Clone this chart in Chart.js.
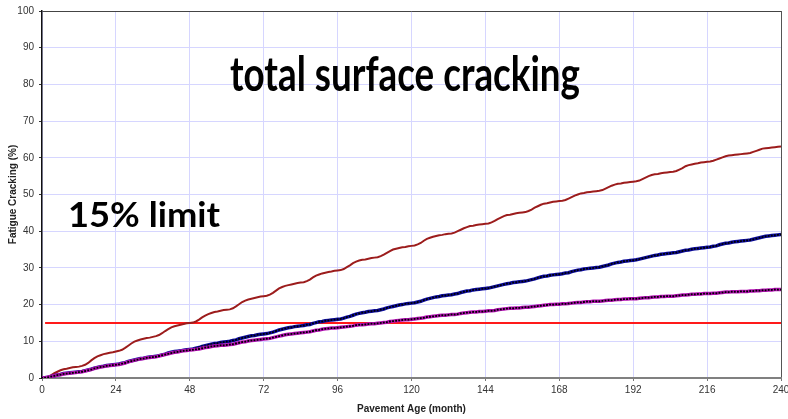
<!DOCTYPE html>
<html>
<head>
<meta charset="utf-8">
<script src="https://cdn.jsdelivr.net/npm/chart.js@4.4.1/dist/chart.umd.min.js"></script>
<style>
  html, body { margin: 0; padding: 0; background: #ffffff; }
  #wrap { width: 788px; height: 419px; position: relative; }
</style>
</head>
<body>
<div id="wrap"><canvas id="chart" width="788" height="419"></canvas></div>
<script>
// Pavement age in months (x axis), one reading per month
const months = Array.from({ length: 241 }, (_, i) => i);
const ageTickStep = 24;
const crackTickStep = 10;

// Total surface cracking (%), month 0..240
const totalCracking = [
  0,
  0.1, 0.4, 0.8, 1.3, 1.7, 2.1, 2.4, 2.5, 2.7, 2.9, 3.0, 3.1,
  3.3, 3.6, 4.1, 4.8, 5.4, 5.9, 6.2, 6.5, 6.7, 6.9, 7.0, 7.2,
  7.4, 7.7, 8.2, 8.8, 9.4, 9.9, 10.2, 10.5, 10.7, 10.9, 11.0, 11.2,
  11.4, 11.7, 12.2, 12.8, 13.3, 13.8, 14.1, 14.3, 14.5, 14.7, 14.9, 15.0,
  15.1, 15.4, 15.9, 16.5, 17.0, 17.4, 17.7, 18.0, 18.1, 18.3, 18.5, 18.6,
  18.7, 19.0, 19.5, 20.1, 20.7, 21.1, 21.4, 21.6, 21.8, 22.0, 22.2, 22.3,
  22.4, 22.7, 23.2, 23.8, 24.4, 24.8, 25.1, 25.3, 25.5, 25.7, 25.9, 26.0,
  26.1, 26.4, 26.8, 27.4, 27.9, 28.2, 28.5, 28.7, 28.9, 29.0, 29.2, 29.3,
  29.4, 29.7, 30.2, 30.7, 31.3, 31.7, 32.0, 32.2, 32.3, 32.5, 32.7, 32.8,
  32.9, 33.2, 33.6, 34.1, 34.6, 35.0, 35.2, 35.4, 35.6, 35.7, 35.9, 36.0,
  36.1, 36.4, 36.8, 37.4, 37.9, 38.2, 38.5, 38.7, 38.9, 39.0, 39.2, 39.3,
  39.4, 39.6, 40.0, 40.4, 40.8, 41.1, 41.4, 41.5, 41.7, 41.8, 41.9, 42.0,
  42.1, 42.4, 42.8, 43.3, 43.7, 44.1, 44.4, 44.5, 44.7, 44.9, 45.0, 45.1,
  45.2, 45.5, 45.9, 46.4, 46.8, 47.2, 47.5, 47.6, 47.8, 48.0, 48.1, 48.2,
  48.3, 48.5, 48.9, 49.3, 49.7, 50.0, 50.3, 50.4, 50.6, 50.7, 50.8, 50.9,
  51.0, 51.2, 51.6, 52.0, 52.4, 52.7, 52.9, 53.0, 53.2, 53.3, 53.4, 53.5,
  53.6, 53.8, 54.2, 54.6, 55.0, 55.3, 55.5, 55.6, 55.8, 55.9, 56.0, 56.1,
  56.2, 56.4, 56.8, 57.2, 57.7, 58.0, 58.2, 58.4, 58.5, 58.7, 58.8, 58.9,
  59.0, 59.2, 59.5, 59.8, 60.1, 60.4, 60.6, 60.7, 60.8, 60.9, 61.0, 61.1,
  61.2, 61.3, 61.6, 61.9, 62.2, 62.5, 62.6, 62.7, 62.8, 62.9, 63.0, 63.1
];

// Fatigue cracking (%), design case A
const crackingCaseA = [
  0,
  0.1, 0.2, 0.4, 0.6, 0.8, 1.0, 1.2, 1.3, 1.4, 1.5, 1.6, 1.7,
  1.8, 2.0, 2.2, 2.4, 2.7, 2.9, 3.1, 3.2, 3.4, 3.5, 3.6, 3.7,
  3.8, 4.0, 4.2, 4.5, 4.7, 4.9, 5.1, 5.3, 5.4, 5.6, 5.7, 5.8,
  5.9, 6.1, 6.3, 6.5, 6.8, 7.0, 7.2, 7.3, 7.4, 7.6, 7.7, 7.8,
  7.9, 8.1, 8.3, 8.6, 8.8, 9.0, 9.2, 9.4, 9.5, 9.7, 9.8, 9.9,
  10.0, 10.2, 10.4, 10.7, 10.9, 11.1, 11.3, 11.5, 11.6, 11.8, 11.9, 12.0,
  12.1, 12.3, 12.5, 12.8, 13.1, 13.3, 13.5, 13.7, 13.8, 14.0, 14.1, 14.2,
  14.3, 14.5, 14.6, 14.9, 15.1, 15.3, 15.4, 15.6, 15.7, 15.8, 15.9, 16.0,
  16.1, 16.3, 16.6, 16.8, 17.1, 17.4, 17.6, 17.8, 17.9, 18.1, 18.2, 18.3,
  18.4, 18.6, 18.8, 19.1, 19.3, 19.5, 19.7, 19.9, 20.0, 20.2, 20.3, 20.4,
  20.5, 20.7, 20.9, 21.2, 21.5, 21.7, 21.9, 22.1, 22.2, 22.4, 22.5, 22.6,
  22.7, 22.9, 23.0, 23.3, 23.5, 23.7, 23.8, 24.0, 24.1, 24.2, 24.3, 24.4,
  24.5, 24.7, 24.9, 25.1, 25.3, 25.5, 25.7, 25.8, 26.0, 26.1, 26.2, 26.3,
  26.4, 26.6, 26.8, 27.0, 27.3, 27.5, 27.7, 27.8, 28.0, 28.1, 28.2, 28.3,
  28.4, 28.6, 28.7, 29.0, 29.2, 29.4, 29.5, 29.7, 29.8, 29.9, 30.0, 30.1,
  30.2, 30.4, 30.6, 30.8, 31.1, 31.3, 31.5, 31.6, 31.8, 31.9, 32.0, 32.1,
  32.2, 32.4, 32.6, 32.8, 33.0, 33.2, 33.4, 33.5, 33.7, 33.8, 33.9, 34.0,
  34.1, 34.2, 34.4, 34.6, 34.8, 34.9, 35.1, 35.2, 35.3, 35.4, 35.5, 35.6,
  35.7, 35.9, 36.0, 36.3, 36.5, 36.7, 36.8, 37.0, 37.1, 37.2, 37.3, 37.4,
  37.5, 37.6, 37.8, 38.0, 38.2, 38.4, 38.6, 38.7, 38.8, 38.9, 39.0, 39.1
];

// Fatigue cracking (%), design case B
const crackingCaseB = [
  0,
  0.1, 0.2, 0.4, 0.6, 0.8, 0.9, 1.1, 1.2, 1.3, 1.4, 1.5, 1.6,
  1.7, 1.9, 2.1, 2.3, 2.6, 2.8, 3.0, 3.1, 3.3, 3.4, 3.5, 3.6,
  3.7, 3.9, 4.1, 4.4, 4.6, 4.8, 5.0, 5.2, 5.3, 5.5, 5.6, 5.7,
  5.8, 6.0, 6.2, 6.4, 6.6, 6.8, 7.0, 7.1, 7.3, 7.4, 7.5, 7.6,
  7.7, 7.8, 7.9, 8.1, 8.3, 8.4, 8.6, 8.7, 8.8, 8.9, 8.9, 9.0,
  9.1, 9.2, 9.4, 9.6, 9.8, 9.9, 10.1, 10.2, 10.3, 10.4, 10.5, 10.6,
  10.7, 10.8, 11.0, 11.2, 11.4, 11.6, 11.8, 11.9, 12.0, 12.1, 12.2, 12.3,
  12.4, 12.5, 12.6, 12.8, 13.0, 13.1, 13.3, 13.4, 13.5, 13.6, 13.6, 13.7,
  13.8, 13.9, 14.0, 14.1, 14.2, 14.4, 14.5, 14.5, 14.6, 14.7, 14.8, 14.8,
  14.9, 15.0, 15.1, 15.2, 15.4, 15.5, 15.6, 15.7, 15.8, 15.9, 15.9, 16.0,
  16.1, 16.2, 16.3, 16.4, 16.6, 16.7, 16.8, 16.9, 17.0, 17.1, 17.1, 17.2,
  17.3, 17.3, 17.4, 17.6, 17.7, 17.8, 17.9, 18.0, 18.0, 18.1, 18.1, 18.2,
  18.3, 18.3, 18.4, 18.6, 18.7, 18.8, 18.9, 19.0, 19.0, 19.1, 19.1, 19.2,
  19.3, 19.3, 19.4, 19.5, 19.6, 19.7, 19.8, 19.9, 20.0, 20.0, 20.1, 20.1,
  20.2, 20.2, 20.3, 20.4, 20.5, 20.6, 20.6, 20.7, 20.8, 20.8, 20.9, 20.9,
  20.9, 21.0, 21.1, 21.2, 21.2, 21.3, 21.4, 21.4, 21.5, 21.5, 21.6, 21.6,
  21.6, 21.7, 21.8, 21.9, 21.9, 22.0, 22.1, 22.1, 22.2, 22.2, 22.3, 22.3,
  22.3, 22.4, 22.5, 22.6, 22.6, 22.7, 22.8, 22.8, 22.9, 22.9, 23.0, 23.0,
  23.0, 23.1, 23.1, 23.2, 23.3, 23.4, 23.4, 23.5, 23.5, 23.5, 23.6, 23.6,
  23.6, 23.7, 23.7, 23.8, 23.8, 23.9, 23.9, 24.0, 24.0, 24.1, 24.1, 24.1
];

// Design limit line
const limitMonths = [1, 240];
const limitValue = 15;

// Headline texts placed on the plot
const headline = 'total surface cracking';
const limitLabel = '15% limit';

const toPoints = (xs, ys) => xs.map((x, i) => ({ x, y: ys[i] }));

// Bold captions, fitted to a given width
const captionPlugin = {
  id: 'captions',
  afterDatasetsDraw(chart) {
    const { ctx } = chart;
    const items = [
      { text: headline, size: 48, left: 230, width: 350, base: 91 },
      { text: limitLabel, size: 34, left: 68, width: 152, base: 227 }
    ];
    items.forEach(it => {
      ctx.save();
      ctx.font = `bold ${it.size}px Lato, "Open Sans", sans-serif`;
      const w = ctx.measureText(it.text).width;
      ctx.translate(it.left, it.base);
      ctx.scale(it.width / w, 1);
      ctx.fillStyle = '#000000';
      ctx.textBaseline = 'alphabetic';
      ctx.textAlign = 'left';
      ctx.fillText(it.text, 0, 0);
      ctx.restore();
    });
  }
};

const tickFont = { family: '"Liberation Sans", Arial, sans-serif', size: 10 };
const titleFont = { family: '"Liberation Sans", Arial, sans-serif', size: 10, weight: 'bold' };
const gridColor = '#d6d6ff';

new Chart(document.getElementById('chart'), {
  type: 'line',
  data: {
    datasets: [
      {
        data: toPoints(limitMonths, limitMonths.map(() => limitValue)),
        borderColor: '#ff1a1a',
        borderWidth: 2,
        pointRadius: 0,
        order: 10
      },
      {
        data: toPoints(months, totalCracking),
        borderColor: '#9c1c1c',
        borderWidth: 2,
        pointRadius: 0,
        order: 3
      },
      {
        data: toPoints(months, crackingCaseA),
        borderColor: '#0c0c9c',
        borderWidth: 3.5,
        pointStyle: 'rect',
        pointRadius: 1.3,
        pointBorderWidth: 0,
        pointBackgroundColor: '#000000',
        order: 2
      },
      {
        data: toPoints(months, crackingCaseB),
        borderColor: '#b412b4',
        borderWidth: 3.5,
        pointStyle: 'rect',
        pointRadius: 1.3,
        pointBorderWidth: 0,
        pointBackgroundColor: '#000000',
        order: 1
      }
    ]
  },
  options: {
    responsive: false,
    animation: false,
    devicePixelRatio: 1,
    layout: { padding: { top: 10, right: 7, left: 0, bottom: 0 } },
    plugins: { legend: { display: false }, tooltip: { enabled: false } },
    elements: { line: { tension: 0 } },
    scales: {
      x: {
        type: 'linear',
        min: 0,
        max: 240,
        ticks: {
          stepSize: ageTickStep,
          color: '#333333',
          font: tickFont,
          padding: 3,
          maxRotation: 0,
          autoSkip: false
        },
        grid: {
          color: c => (c.tick && c.tick.value === 240 ? '#555555' : gridColor),
          lineWidth: 1,
          tickLength: 3,
          tickColor: '#777777'
        },
        border: { color: '#808080', width: 2 },
        title: { display: true, text: 'Pavement Age (month)', font: titleFont, color: '#222222', padding: { top: 2, bottom: 4 } },
        afterFit: s => { s.height = 41; s.paddingLeft = 0; s.paddingRight = 0; }
      },
      y: {
        min: 0,
        max: 100,
        ticks: {
          stepSize: crackTickStep,
          color: '#333333',
          font: tickFont,
          padding: 5
        },
        grid: {
          color: c => (c.tick && c.tick.value === 100 ? '#444444' : gridColor),
          lineWidth: 1,
          tickLength: 3,
          tickColor: '#333333'
        },
        border: { color: '#111111', width: 1.5 },
        title: { display: true, text: 'Fatigue Cracking (%)', font: titleFont, color: '#222222', padding: { top: 7, bottom: 2 } },
        afterFit: s => { s.width = 42; }
      }
    }
  },
  plugins: [captionPlugin]
});
</script>
</body>
</html>
